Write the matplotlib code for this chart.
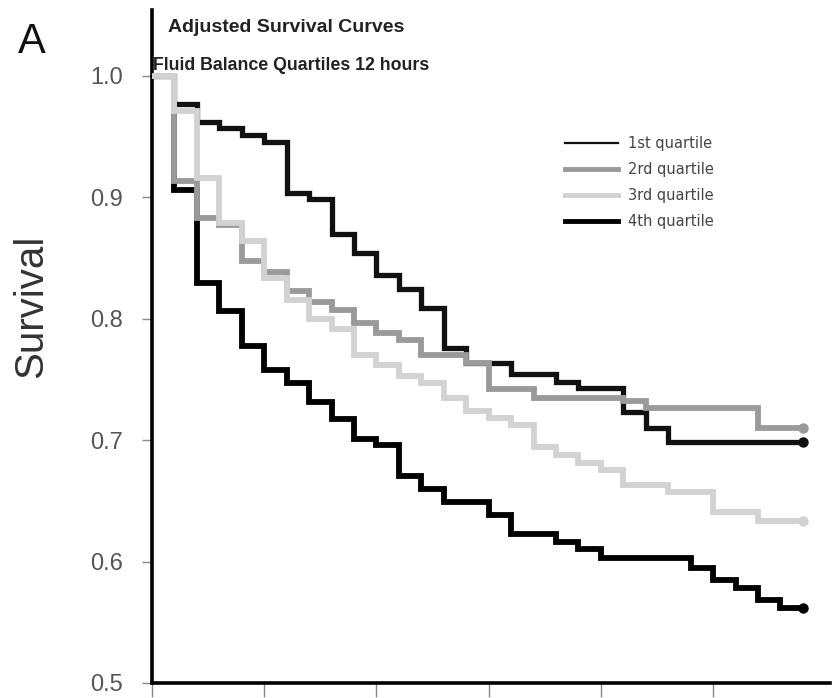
import matplotlib
matplotlib.use("Agg")
import matplotlib.pyplot as plt
from matplotlib.lines import Line2D

# days since admission (0..29), survival held from each day to the next
days = list(range(30))

q1_surv = [1.000, 0.977, 0.962, 0.957, 0.951, 0.945, 0.903, 0.898, 0.870, 0.854,
           0.836, 0.824, 0.809, 0.776, 0.763, 0.763, 0.754, 0.754, 0.748, 0.743,
           0.743, 0.723, 0.710, 0.698, 0.698, 0.698, 0.698, 0.698, 0.698, 0.698]
q2_surv = [1.000, 0.913, 0.883, 0.877, 0.847, 0.838, 0.823, 0.814, 0.807, 0.796,
           0.788, 0.782, 0.770, 0.770, 0.763, 0.742, 0.742, 0.735, 0.735, 0.735,
           0.735, 0.732, 0.726, 0.726, 0.726, 0.726, 0.726, 0.710, 0.710, 0.710]
q3_surv = [1.000, 0.971, 0.916, 0.879, 0.864, 0.833, 0.815, 0.800, 0.791, 0.770,
           0.762, 0.753, 0.747, 0.735, 0.724, 0.718, 0.712, 0.694, 0.688, 0.681,
           0.675, 0.663, 0.663, 0.657, 0.657, 0.641, 0.641, 0.633, 0.633, 0.633]
q4_surv = [1.000, 0.906, 0.829, 0.806, 0.777, 0.758, 0.747, 0.731, 0.717, 0.701,
           0.696, 0.670, 0.660, 0.649, 0.649, 0.638, 0.623, 0.623, 0.616, 0.610,
           0.603, 0.603, 0.603, 0.603, 0.595, 0.585, 0.578, 0.568, 0.562, 0.562]

labels = ["1st quartile", "2rd quartile", "3rd quartile", "4th quartile"]
y_ticks = [0.5, 0.6, 0.7, 0.8, 0.9, 1.0]
x_ticks = [0, 5, 10, 15, 20, 25]

plt.rcParams['font.family'] = ['Liberation Sans', 'DejaVu Sans']

fig = plt.figure(figsize=(8.34, 6.98), dpi=100)
ax = fig.add_axes([0.1823, 0.0215, 0.8127, 0.9642])

# data, colour, width, zorder
curves = [
    (q1_surv, "#111111", 3.8, 3),
    (q4_surv, "#000000", 4.2, 4),
    (q2_surv, "#9a9a9a", 4.2, 5),
    (q3_surv, "#d2d2d2", 4.2, 6),
]
for surv, col, lw, z in curves:
    ax.step(days, surv, where='post', color=col, lw=lw, zorder=z, solid_joinstyle='miter')
    ax.plot(days[-1], surv[-1], 'o', color=col, ms=6.5, zorder=z)

ax.set_xlim(0, 30.2)
ax.set_ylim(0.5, 1.054)
ax.set_yticks(y_ticks)
ax.set_yticklabels([f"{v:.1f}" for v in y_ticks])
ax.set_xticks(x_ticks)
ax.set_xticklabels([])

for s in ['top', 'right']:
    ax.spines[s].set_visible(False)
for s in ['left', 'bottom']:
    ax.spines[s].set_linewidth(2.6)
    ax.spines[s].set_color('black')

ax.tick_params(axis='y', length=7, width=1, color='#888888', pad=14,
               labelsize=17, labelcolor='#555555')
ax.tick_params(axis='x', length=10, width=1, color='#888888')

ax.set_ylabel("Survival", fontsize=29, color='#333333')
ax.yaxis.set_label_coords(-0.15, 0.56)

fig.text(0.022, 0.94, "A", fontsize=30, color='#111111', ha='left', va='center')
fig.text(286 / 834, 1 - 27 / 698, "Adjusted Survival Curves", fontsize=14,
         fontweight='bold', color='#222222', ha='center', va='center')
fig.text(291 / 834, 1 - 65 / 698, "Fluid Balance Quartiles 12 hours", fontsize=12.8,
         fontweight='bold', color='#222222', ha='center', va='center')

handles = [
    Line2D([], [], color="#111111", lw=1.6),
    Line2D([], [], color="#9a9a9a", lw=3.5),
    Line2D([], [], color="#d2d2d2", lw=3.5),
    Line2D([], [], color="#000000", lw=3.5),
]
leg = ax.legend(handles, labels, loc='upper left', bbox_to_anchor=(565 / 834, 1 - 136 / 698),
                bbox_transform=fig.transFigure, frameon=False,
                handlelength=3.6, handletextpad=0.75, labelspacing=0.75,
                borderpad=0, borderaxespad=0, prop={'family': 'DejaVu Sans', 'size': 10.5})
for t in leg.get_texts():
    t.set_color('#444444')

fig.savefig("out.png", dpi=100)
